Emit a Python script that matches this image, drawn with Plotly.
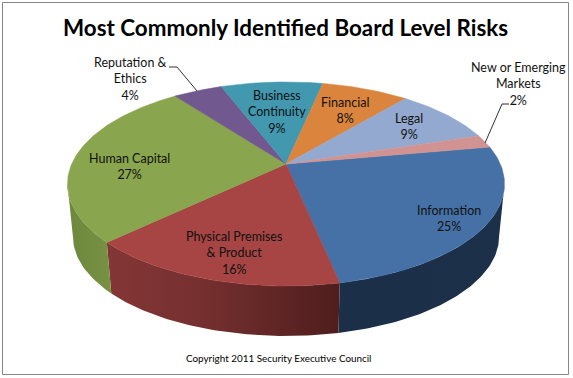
import math
import plotly.graph_objects as go

# Data (clockwise from the start angle)
categories = ["Information", "Physical Premises & Product", "Human Capital",
              "Reputation & Ethics", "Business Continuity", "Financial",
              "Legal", "New or Emerging Markets"]
values = [24.6, 16.1, 26.9, 4.4, 9.1, 7.8, 9.0, 2.05]
percent_labels = ["25%", "16%", "27%", "4%", "9%", "8%", "9%", "2%"]
label_lines = ["Information", "Physical Premises<br>& Product", "Human Capital",
               "Reputation &<br>Ethics", "Business<br>Continuity", "Financial",
               "Legal", "New or Emerging<br>Markets"]
top_colors = ["#4571A6", "#A64543", "#89A54E", "#71588F",
              "#4198AF", "#DB843D", "#93A9CF", "#D19392"]
wall_scales = [
    [[0, "#1B2F49"], [1, "#1C3049"]],
    [[0, "#843636"], [0.4, "#75302F"], [1, "#4F1D1D"]],
    [[0, "#6D873D"], [1, "#779243"]],
    None, None, None, None, None,
]
label_x = [449, 234, 129, 130, 277, 345, 409, 518]
label_y = [218.5, 253, 166, 79, 112, 110, 126, 84]

TITLE = "Most Commonly Identified Board Level Risks"
CREDIT = "Copyright 2011 Security Executive Council"

# Perspective geometry of the disc
START_DEG = 10.3
CX, CY_TOP = 286.0, 164.0
R, S, K = 214.3, 98.1, 0.196
DEPTH, BOTTOM_SCALE = 53.0, 0.975
SIDE_LEFT, SIDE_RIGHT = 191.3, 348.7 - 360


def project(deg, lower=False):
    t = math.radians(deg)
    X, Y = math.cos(t), math.sin(t)
    w = 1 + K * Y
    dx, dy = R * X / w, -S * Y / w
    if lower:
        return CX + dx * BOTTOM_SCALE, CY_TOP + DEPTH + dy * BOTTOM_SCALE
    return CX + dx, CY_TOP + dy


def sweep(a0, a1, step=1.0):
    n = max(2, int(abs(a1 - a0) / step) + 1)
    return [a0 + (a1 - a0) * i / (n - 1) for i in range(n)]


total = sum(values)
bounds = [START_DEG]
for v in values:
    bounds.append(bounds[-1] - v / total * 360)

fig = go.Figure()

# Side walls: only the part of each slice on the visible front of the disc
for i, (a0, a1) in enumerate(zip(bounds[:-1], bounds[1:])):
    if wall_scales[i] is None:
        continue
    hi = a0 if a0 < SIDE_RIGHT else SIDE_RIGHT
    lo = max(a1, SIDE_LEFT - 360)
    if hi <= lo:
        continue
    angs = sweep(hi, lo)
    up = [project(a) for a in angs]
    dn = [project(a, True) for a in reversed(angs)]
    pts = up + dn + [up[0]]
    fig.add_trace(go.Scatter(
        x=[p[0] for p in pts], y=[p[1] for p in pts], mode="lines",
        fill="toself", line=dict(width=0), hoverinfo="skip", showlegend=False,
        fillgradient=dict(type="horizontal", colorscale=wall_scales[i])))

# Top surface slices
for i, (a0, a1) in enumerate(zip(bounds[:-1], bounds[1:])):
    pts = [(CX, CY_TOP)] + [project(a) for a in sweep(a0, a1)] + [(CX, CY_TOP)]
    fig.add_trace(go.Scatter(
        x=[p[0] for p in pts], y=[p[1] for p in pts], mode="lines",
        fill="toself", fillcolor=top_colors[i],
        line=dict(width=0.5, color=top_colors[i]),
        name=categories[i], hoverinfo="skip", showlegend=False))

# Leader lines
for xs, ys in [([169, 177, 197], [67, 67, 91]), ([509, 502, 485], [104, 104, 143])]:
    fig.add_trace(go.Scatter(x=xs, y=ys, mode="lines", hoverinfo="skip",
                             showlegend=False, line=dict(color="#303030", width=1)))

FONT = "Lato, Carlito, Calibri, sans-serif"
annotations = [
    dict(x=lx, y=ly, text=f"{t}<br>{p}", showarrow=False, xanchor="center",
         yanchor="middle", align="center", font=dict(family=FONT, size=12.5, color="#111111"))
    for t, p, lx, ly in zip(label_lines, percent_labels, label_x, label_y)
]
annotations.append(dict(x=285.5, y=27, text=f"<b>{TITLE}</b>", showarrow=False,
                        xanchor="center", yanchor="middle",
                        font=dict(family=FONT, size=22.4, color="#000000")))
annotations.append(dict(x=278, y=358, text=CREDIT, showarrow=False, xanchor="center",
                        yanchor="middle", font=dict(family=FONT, size=9.9, color="#000000")))

fig.update_layout(
    width=573, height=378, autosize=False,
    margin=dict(l=0, r=0, t=0, b=0),
    paper_bgcolor="white", plot_bgcolor="white", showlegend=False,
    xaxis=dict(range=[0, 573], visible=False, fixedrange=True),
    yaxis=dict(range=[378, 0], visible=False, fixedrange=True),
    annotations=annotations,
    shapes=[dict(type="rect", x0=2.5, y0=2.5, x1=568.5, y1=374.5,
                 line=dict(color="#868686", width=1), fillcolor="rgba(0,0,0,0)", layer="above")],
)

fig.write_html("out.html", config={"displayModeBar": False},
               post_script="document.body.style.margin='0';document.body.style.overflow='hidden';")
